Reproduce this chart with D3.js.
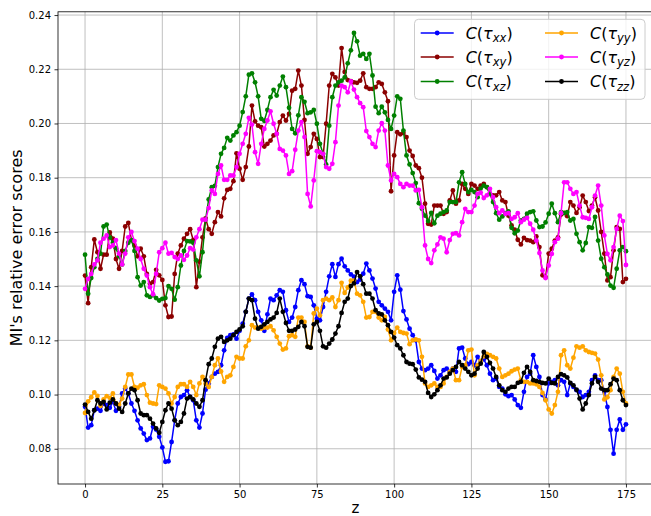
<!DOCTYPE html>
<html>
<head>
<meta charset="utf-8">
<script src="https://cdn.jsdelivr.net/npm/d3@7"></script>
<style>
  html, body { margin: 0; padding: 0; background: #fff; }
  svg { display: block; }
</style>
</head>
<body>
<div id="chart"></div>
<script>
// Streamwise position index
const zValues = d3.range(0, 176);

// Relative error scores per stress component
const tauXX = [
  0.0955, 0.0878, 0.0887, 0.0942, 0.0948, 0.0940, 0.0967, 0.0961, 0.0951, 0.0973,
  0.0940, 0.0955, 0.1004, 0.1022, 0.1004, 0.0967, 0.0940, 0.0905, 0.0875, 0.0856,
  0.0832, 0.0838, 0.0881, 0.0871, 0.0844, 0.0805, 0.0752, 0.0754, 0.0825, 0.0905,
  0.0967, 0.0991, 0.0998, 0.1016, 0.0991, 0.0979, 0.0905, 0.0878, 0.0930, 0.1018,
  0.1041, 0.1065, 0.1077, 0.1084, 0.1108, 0.1163, 0.1209, 0.1219, 0.1222, 0.1206,
  0.1235, 0.1262, 0.1305, 0.1354, 0.1369, 0.1348, 0.1305, 0.1274, 0.1235, 0.1296,
  0.1354, 0.1348, 0.1366, 0.1385, 0.1379, 0.1311, 0.1268, 0.1284, 0.1323, 0.1385,
  0.1422, 0.1407, 0.1363, 0.1360, 0.1329, 0.1280, 0.1274, 0.1323, 0.1379, 0.1436,
  0.1481, 0.1434, 0.1481, 0.1501, 0.1473, 0.1458, 0.1443, 0.1435, 0.1415, 0.1424,
  0.1446, 0.1483, 0.1458, 0.1428, 0.1391, 0.1342, 0.1329, 0.1317, 0.1305, 0.1274,
  0.1379, 0.1440, 0.1387, 0.1308, 0.1277, 0.1243, 0.1219, 0.1200, 0.1120, 0.1096,
  0.1090, 0.1096, 0.1108, 0.1087, 0.1059, 0.1071, 0.1090, 0.1096, 0.1084, 0.1096,
  0.1084, 0.1170, 0.1173, 0.1133, 0.1112, 0.1120, 0.1108, 0.1139, 0.1120, 0.1130,
  0.1108, 0.1077, 0.1053, 0.1059, 0.1028, 0.1022, 0.1001, 0.0994, 0.0998, 0.0982,
  0.0961, 0.0951, 0.1010, 0.1065, 0.1077, 0.1145, 0.1102, 0.1065, 0.0998, 0.0982,
  0.1041, 0.1047, 0.1053, 0.1034, 0.1053, 0.1047, 0.0998, 0.1041, 0.1028, 0.1016,
  0.1010, 0.0991, 0.0998, 0.1010, 0.1053, 0.1071, 0.1053, 0.1053, 0.1010, 0.0954,
  0.0870, 0.0782, 0.0870, 0.0908, 0.0870, 0.0890
];

const tauXY = [
  0.1439, 0.1337, 0.1470, 0.1572, 0.1525, 0.1464, 0.1516, 0.1516, 0.1598, 0.1575,
  0.1500, 0.1464, 0.1530, 0.1620, 0.1633, 0.1570, 0.1550, 0.1510, 0.1538, 0.1510,
  0.1445, 0.1409, 0.1415, 0.1460, 0.1440, 0.1423, 0.1329, 0.1286, 0.1288, 0.1445,
  0.1520, 0.1550, 0.1575, 0.1593, 0.1610, 0.1570, 0.1396, 0.1490, 0.1580, 0.1650,
  0.1610, 0.1593, 0.1636, 0.1673, 0.1657, 0.1724, 0.1755, 0.1759, 0.1787, 0.1890,
  0.1833, 0.1792, 0.1839, 0.1915, 0.2066, 0.2008, 0.1992, 0.1986, 0.1915, 0.1925,
  0.1937, 0.1956, 0.1962, 0.2005, 0.2029, 0.2011, 0.2035, 0.2121, 0.2128, 0.2195,
  0.2140, 0.2013, 0.1888, 0.1913, 0.1962, 0.1943, 0.1876, 0.1876, 0.1999, 0.2140,
  0.2183, 0.2170, 0.2140, 0.2278, 0.2190, 0.2160, 0.2156, 0.2152, 0.2150, 0.2158,
  0.2185, 0.2134, 0.2128, 0.2128, 0.2134, 0.2152, 0.2146, 0.2115, 0.2082, 0.1750,
  0.1882, 0.1968, 0.1960, 0.1965, 0.1950, 0.1900, 0.1880, 0.1845, 0.1835, 0.1800,
  0.1704, 0.1630, 0.1627, 0.1697, 0.1697, 0.1697, 0.1667, 0.1673, 0.1716, 0.1753,
  0.1704, 0.1716, 0.1777, 0.1759, 0.1740, 0.1777, 0.1771, 0.1759, 0.1771, 0.1777,
  0.1765, 0.1740, 0.1735, 0.1735, 0.1747, 0.1716, 0.1710, 0.1660, 0.1624, 0.1608,
  0.1571, 0.1554, 0.1578, 0.1570, 0.1568, 0.1562, 0.1583, 0.1544, 0.1440, 0.1433,
  0.1520, 0.1538, 0.1568, 0.1580, 0.1664, 0.1670, 0.1658, 0.1710, 0.1697, 0.1670,
  0.1691, 0.1734, 0.1710, 0.1677, 0.1697, 0.1728, 0.1679, 0.1600, 0.1520, 0.1421,
  0.1433, 0.1532, 0.1618, 0.1611, 0.1415, 0.1427
];

const tauXZ = [
  0.1516, 0.1372, 0.1430, 0.1470, 0.1500, 0.1520, 0.1620, 0.1627, 0.1580, 0.1560,
  0.1540, 0.1510, 0.1480, 0.1530, 0.1560, 0.1570, 0.1530, 0.1433, 0.1402, 0.1415,
  0.1366, 0.1360, 0.1366, 0.1356, 0.1347, 0.1353, 0.1356, 0.1400, 0.1390, 0.1350,
  0.1396, 0.1476, 0.1530, 0.1566, 0.1565, 0.1560, 0.1495, 0.1436, 0.1525, 0.1645,
  0.1720, 0.1765, 0.1770, 0.1839, 0.1888, 0.1910, 0.1947, 0.1937, 0.1956, 0.1968,
  0.1992, 0.2042, 0.2100, 0.2180, 0.2185, 0.2152, 0.2100, 0.2017, 0.2010, 0.2050,
  0.2097, 0.2124, 0.2103, 0.2140, 0.2173, 0.2134, 0.2058, 0.1980, 0.1964, 0.2030,
  0.2097, 0.2080, 0.2038, 0.2041, 0.2050, 0.1999, 0.1925, 0.1888, 0.1849, 0.1992,
  0.2097, 0.2140, 0.2152, 0.2158, 0.2170, 0.2222, 0.2270, 0.2334, 0.2303, 0.2250,
  0.2257, 0.2238, 0.2257, 0.2177, 0.2062, 0.2038, 0.2062, 0.2041, 0.2013, 0.1980,
  0.2029, 0.2100, 0.2091, 0.1974, 0.1882, 0.1849, 0.1817, 0.1780, 0.1706, 0.1685,
  0.1660, 0.1640, 0.1670, 0.1632, 0.1660, 0.1667, 0.1673, 0.1679, 0.1710, 0.1710,
  0.1710, 0.1783, 0.1820, 0.1777, 0.1747, 0.1755, 0.1747, 0.1728, 0.1760, 0.1771,
  0.1765, 0.1740, 0.1710, 0.1669, 0.1645, 0.1657, 0.1669, 0.1676, 0.1615, 0.1595,
  0.1605, 0.1642, 0.1648, 0.1667, 0.1673, 0.1676, 0.1642, 0.1618, 0.1620, 0.1635,
  0.1667, 0.1704, 0.1669, 0.1636, 0.1673, 0.1669, 0.1673, 0.1642, 0.1648, 0.1593,
  0.1562, 0.1532, 0.1559, 0.1618, 0.1615, 0.1655, 0.1568, 0.1501, 0.1470, 0.1443,
  0.1402, 0.1394, 0.1464, 0.1532, 0.1544, 0.1529
];

const tauYY = [
  0.0932, 0.0975, 0.0990, 0.1008, 0.0995, 0.0958, 0.0982, 0.0994, 0.0988, 0.1004,
  0.0967, 0.0962, 0.0985, 0.1028, 0.1074, 0.1074, 0.1028, 0.1025, 0.1034, 0.1038,
  0.0998, 0.0970, 0.0967, 0.0965, 0.1034, 0.1028, 0.1022, 0.1004, 0.0967, 0.0991,
  0.1028, 0.1038, 0.1038, 0.1028, 0.1047, 0.1028, 0.0998, 0.1041, 0.1065, 0.1040,
  0.1028, 0.1065, 0.1108, 0.1133, 0.1085, 0.1047, 0.1065, 0.1071, 0.1102, 0.1139,
  0.1133, 0.1133, 0.1178, 0.1200, 0.1256, 0.1247, 0.1247, 0.1243, 0.1247, 0.1247,
  0.1252, 0.1237, 0.1213, 0.1188, 0.1166, 0.1170, 0.1215, 0.1219, 0.1213, 0.1284,
  0.1284, 0.1268, 0.1178, 0.1173, 0.1299, 0.1317, 0.1292, 0.1348, 0.1354, 0.1348,
  0.1358, 0.1323, 0.1348, 0.1412, 0.1375, 0.1395, 0.1420, 0.1420, 0.1372, 0.1366,
  0.1342, 0.1284, 0.1286, 0.1305, 0.1305, 0.1284, 0.1274, 0.1286, 0.1240, 0.1200,
  0.1227, 0.1247, 0.1231, 0.1227, 0.1225, 0.1186, 0.1200, 0.1203, 0.1200, 0.1139,
  0.1041, 0.1028, 0.1034, 0.1041, 0.1028, 0.1028, 0.1041, 0.1065, 0.1084, 0.1096,
  0.1053, 0.1053, 0.1102, 0.1108, 0.1163, 0.1166, 0.1071, 0.1108, 0.1124, 0.1141,
  0.1150, 0.1145, 0.1139, 0.1133, 0.1096, 0.1065, 0.1071, 0.1077, 0.1086, 0.1092,
  0.1096, 0.1053, 0.1047, 0.1047, 0.1041, 0.1041, 0.1038, 0.1028, 0.1006, 0.0979,
  0.0945, 0.0930, 0.0961, 0.1010, 0.1145, 0.1163, 0.1108, 0.1096, 0.1136, 0.1178,
  0.1173, 0.1178, 0.1163, 0.1157, 0.1154, 0.1151, 0.1129, 0.1071, 0.0982, 0.0990,
  0.1016, 0.1065, 0.1096, 0.1077, 0.1010, 0.0967
];

const tauYZ = [
  0.1390, 0.1427, 0.1445, 0.1480, 0.1495, 0.1560, 0.1575, 0.1587, 0.1544, 0.1550,
  0.1570, 0.1520, 0.1480, 0.1520, 0.1580, 0.1600, 0.1566, 0.1538, 0.1500, 0.1464,
  0.1439, 0.1396, 0.1370, 0.1445, 0.1525, 0.1540, 0.1560, 0.1520, 0.1523, 0.1507,
  0.1500, 0.1513, 0.1497, 0.1513, 0.1540, 0.1535, 0.1580, 0.1610, 0.1645, 0.1645,
  0.1688, 0.1753, 0.1740, 0.1814, 0.1845, 0.1792, 0.1792, 0.1808, 0.1808, 0.1839,
  0.1888, 0.1925, 0.1962, 0.2021, 0.1996, 0.1894, 0.1851, 0.1925, 0.1980, 0.2011,
  0.2045, 0.1999, 0.1962, 0.1906, 0.1900, 0.1882, 0.1814, 0.1824, 0.1903, 0.1974,
  0.2005, 0.1950, 0.1740, 0.1694, 0.1790, 0.1898, 0.1894, 0.1888, 0.1839, 0.1833,
  0.1851, 0.1931, 0.2066, 0.2140, 0.2134, 0.2115, 0.2155, 0.2125, 0.2097, 0.2075,
  0.2060, 0.1972, 0.1950, 0.1925, 0.1913, 0.1974, 0.2001, 0.1974, 0.1845, 0.1790,
  0.1814, 0.1802, 0.1777, 0.1765, 0.1777, 0.1771, 0.1771, 0.1753, 0.1755, 0.1691,
  0.1550, 0.1500, 0.1485, 0.1532, 0.1554, 0.1580, 0.1575, 0.1525, 0.1570, 0.1593,
  0.1595, 0.1587, 0.1636, 0.1685, 0.1673, 0.1673, 0.1697, 0.1740, 0.1745, 0.1725,
  0.1735, 0.1759, 0.1728, 0.1691, 0.1669, 0.1679, 0.1667, 0.1669, 0.1648, 0.1654,
  0.1669, 0.1636, 0.1645, 0.1652, 0.1630, 0.1608, 0.1568, 0.1522, 0.1458, 0.1430,
  0.1476, 0.1519, 0.1562, 0.1575, 0.1669, 0.1783, 0.1783, 0.1759, 0.1740, 0.1747,
  0.1697, 0.1654, 0.1652, 0.1648, 0.1691, 0.1734, 0.1771, 0.1697, 0.1587, 0.1519,
  0.1495, 0.1544, 0.1611, 0.1660, 0.1640, 0.1478
];

const tauZZ = [
  0.0963, 0.0936, 0.0911, 0.0942, 0.0979, 0.0967, 0.0973, 0.0945, 0.0970, 0.0982,
  0.0967, 0.0948, 0.0936, 0.0967, 0.1004, 0.1022, 0.1016, 0.0979, 0.0930, 0.0924,
  0.0924, 0.0911, 0.0893, 0.0875, 0.0859, 0.0899, 0.0942, 0.0967, 0.0948, 0.0905,
  0.0887, 0.0899, 0.0930, 0.0985, 0.0991, 0.0982, 0.0967, 0.0955, 0.0979, 0.1053,
  0.1112, 0.1133, 0.1176, 0.1206, 0.1213, 0.1194, 0.1200, 0.1206, 0.1219, 0.1231,
  0.1240, 0.1252, 0.1305, 0.1354, 0.1348, 0.1280, 0.1243, 0.1250, 0.1259, 0.1268,
  0.1277, 0.1284, 0.1301, 0.1354, 0.1305, 0.1264, 0.1235, 0.1235, 0.1240, 0.1250,
  0.1268, 0.1252, 0.1176, 0.1173, 0.1259, 0.1268, 0.1235, 0.1178, 0.1173, 0.1188,
  0.1203, 0.1225, 0.1252, 0.1301, 0.1342, 0.1354, 0.1400, 0.1410, 0.1452, 0.1436,
  0.1407, 0.1372, 0.1372, 0.1354, 0.1311, 0.1299, 0.1296, 0.1274, 0.1256, 0.1231,
  0.1210, 0.1182, 0.1170, 0.1145, 0.1120, 0.1114, 0.1112, 0.1092, 0.1063, 0.1055,
  0.1047, 0.1006, 0.0991, 0.1001, 0.1016, 0.1034, 0.1059, 0.1063, 0.1077, 0.1090,
  0.1102, 0.1120, 0.1108, 0.1096, 0.1084, 0.1071, 0.1077, 0.1096, 0.1114, 0.1157,
  0.1139, 0.1117, 0.1096, 0.1065, 0.1034, 0.1016, 0.1010, 0.1022, 0.1028, 0.1028,
  0.1043, 0.1047, 0.1080, 0.1102, 0.1084, 0.1053, 0.1050, 0.1047, 0.1043, 0.1041,
  0.1059, 0.1043, 0.1041, 0.1065, 0.1075, 0.1071, 0.1063, 0.1043, 0.1034, 0.1018,
  0.0985, 0.0945, 0.0967, 0.0998, 0.1041, 0.1065, 0.1047, 0.1022, 0.1016, 0.1016,
  0.1038, 0.1059, 0.1053, 0.1016, 0.0979, 0.0961
];

// Series metadata: legend subscripts and colours
const seriesSubs = ["xx", "xy", "xz", "yy", "yz", "zz"];
const seriesColors = ["#0000ff", "#8b0000", "#008000", "#ffa500", "#ff00ff", "#000000"];
const seriesValues = [tauXX, tauXY, tauXZ, tauYY, tauYZ, tauZZ];

// Axis ticks
const xTicks = [0, 25, 50, 75, 100, 125, 150, 175];
const yTicks = [0.08, 0.10, 0.12, 0.14, 0.16, 0.18, 0.20, 0.22, 0.24];

const W = 651, H = 516;
const plot = { left: 58, right: 653, top: 11.8, bottom: 484 };

const x = d3.scaleLinear().domain([-8.75, 183.75]).range([plot.left, plot.right]);
const y = d3.scaleLinear().domain([0.0670, 0.2412]).range([plot.bottom, plot.top]);

const svg = d3.select("#chart").append("svg")
  .attr("width", W).attr("height", H)
  .attr("viewBox", `0 0 ${W} ${H}`)
  .style("font-family", "'DejaVu Sans', sans-serif");

svg.append("rect").attr("width", W).attr("height", H).attr("fill", "#fff");

// Grid
const grid = svg.append("g").attr("class", "grid");
grid.selectAll("line.gx").data(xTicks).join("line")
  .attr("class", "gx")
  .attr("x1", d => x(d)).attr("x2", d => x(d))
  .attr("y1", plot.top).attr("y2", plot.bottom)
  .attr("stroke", "#b0b0b0").attr("stroke-width", 0.8);
grid.selectAll("line.gy").data(yTicks).join("line")
  .attr("class", "gy")
  .attr("x1", plot.left).attr("x2", plot.right)
  .attr("y1", d => y(d)).attr("y2", d => y(d))
  .attr("stroke", "#b0b0b0").attr("stroke-width", 0.8);

// Series: line then markers
const lineGen = d3.line().x((d, i) => x(zValues[i])).y(d => y(d));
seriesValues.forEach((vals, k) => {
  const g = svg.append("g").attr("class", "series-" + seriesSubs[k]);
  g.append("path")
    .attr("d", lineGen(vals))
    .attr("fill", "none")
    .attr("stroke", seriesColors[k])
    .attr("stroke-width", 1.5)
    .attr("stroke-linejoin", "round");
  g.selectAll("circle").data(vals).join("circle")
    .attr("cx", (d, i) => x(zValues[i]))
    .attr("cy", d => y(d))
    .attr("r", 2.4)
    .attr("fill", seriesColors[k]);
});

// Axes frame
svg.append("rect")
  .attr("x", plot.left).attr("y", plot.top)
  .attr("width", plot.right - plot.left).attr("height", plot.bottom - plot.top)
  .attr("fill", "none").attr("stroke", "#000").attr("stroke-width", 0.8);

// Axes
const xAxis = d3.axisBottom(x).tickValues(xTicks).tickFormat(d3.format("d"))
  .tickSizeInner(3.5).tickSizeOuter(0).tickPadding(3.5);
const yAxis = d3.axisLeft(y).tickValues(yTicks).tickFormat(d3.format(".2f"))
  .tickSizeInner(3.5).tickSizeOuter(0).tickPadding(3.5);

const gx = svg.append("g").attr("transform", `translate(0,${plot.bottom})`).call(xAxis);
const gy = svg.append("g").attr("transform", `translate(${plot.left},0)`).call(yAxis);
[gx, gy].forEach(g => {
  g.select(".domain").remove();
  g.selectAll(".tick line").attr("stroke", "#000").attr("stroke-width", 0.8);
  g.selectAll(".tick text").attr("fill", "#000")
    .style("font-size", "10px").style("font-family", "'DejaVu Sans', sans-serif");
});

// Axis labels
svg.append("text")
  .attr("x", (plot.left + plot.right) / 2).attr("y", 513)
  .attr("text-anchor", "middle")
  .style("font-size", "15px")
  .text("z");

svg.append("text")
  .attr("transform", `translate(22,${(plot.top + plot.bottom) / 2}) rotate(-90)`)
  .attr("text-anchor", "middle")
  .style("font-size", "16px")
  .text("MI's relative error scores");

// Legend
const legend = svg.append("g").attr("class", "legend");
legend.append("rect")
  .attr("x", 414.5).attr("y", 19.3).attr("width", 230.5).attr("height", 80)
  .attr("rx", 4).attr("ry", 4)
  .attr("fill", "#fff").attr("fill-opacity", 0.8)
  .attr("stroke", "#cccccc").attr("stroke-width", 1);

const colX = [420.7, 545];
const rowY = [33, 57, 81.5];
seriesSubs.forEach((sub, k) => {
  const cx0 = colX[Math.floor(k / 3)];
  const cy0 = rowY[k % 3];
  const item = legend.append("g");
  item.append("line")
    .attr("x1", cx0).attr("x2", cx0 + 33)
    .attr("y1", cy0).attr("y2", cy0)
    .attr("stroke", seriesColors[k]).attr("stroke-width", 1.5);
  item.append("circle")
    .attr("cx", cx0 + 16.5).attr("cy", cy0).attr("r", 2.4)
    .attr("fill", seriesColors[k]);
  const t = item.append("text")
    .attr("x", cx0 + 45).attr("y", cy0 + 5.5)
    .style("font-size", "16px");
  t.append("tspan").style("font-style", "italic").text("C");
  t.append("tspan").text("(");
  t.append("tspan").style("font-style", "italic").text("\u03C4");
  t.append("tspan").style("font-style", "italic").style("font-size", "11.5px")
    .attr("dy", 3.5).text(sub);
  t.append("tspan").attr("dy", -3.5).text(")");
});
</script>
</body>
</html>
